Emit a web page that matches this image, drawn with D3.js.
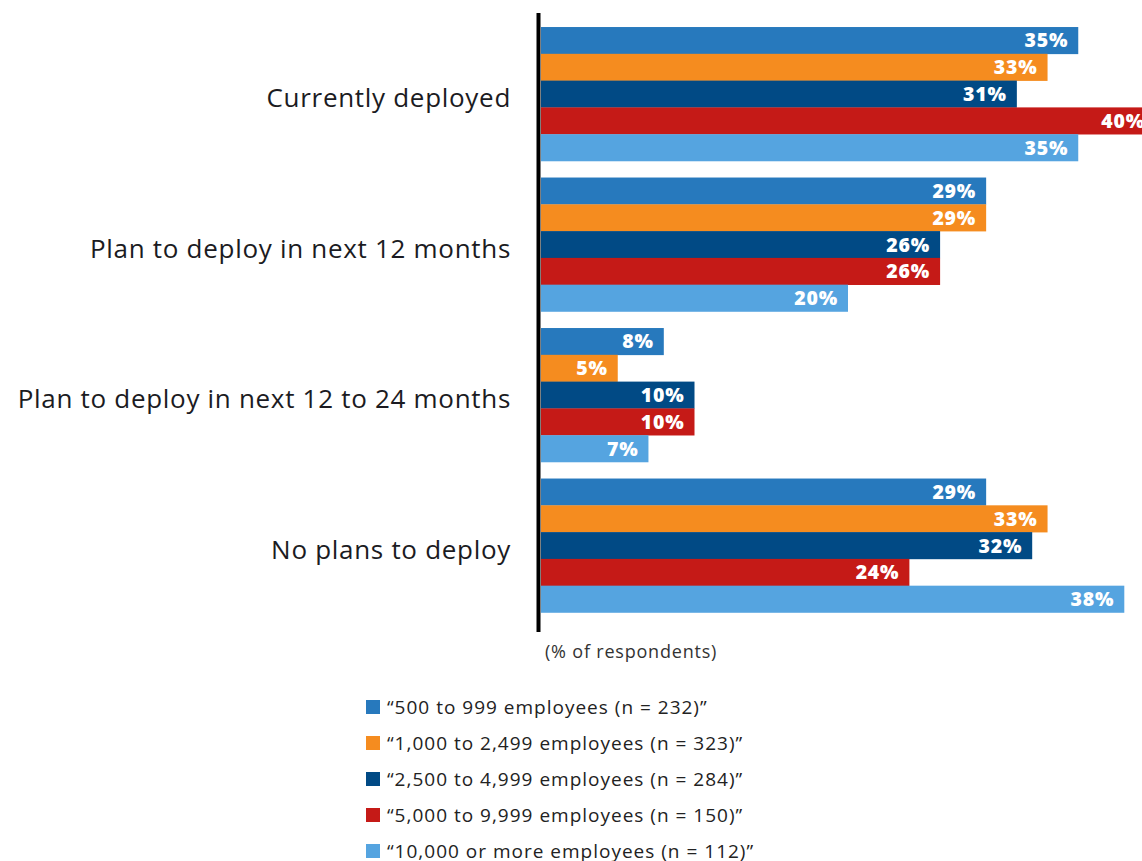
<!DOCTYPE html>
<html>
<head>
<meta charset="utf-8">
<script src="https://cdn.jsdelivr.net/npm/d3@7"></script>
<style>
  html, body { margin: 0; padding: 0; background: #fff; }
  svg { display: block; }
</style>
</head>
<body>
<div id="chart"></div>
<script>
const categories = [
  "Currently deployed",
  "Plan to deploy in next 12 months",
  "Plan to deploy in next 12 to 24 months",
  "No plans to deploy"
];
const seriesNames = [
  "“500 to 999 employees (n = 232)”",
  "“1,000 to 2,499 employees (n = 323)”",
  "“2,500 to 4,999 employees (n = 284)”",
  "“5,000 to 9,999 employees (n = 150)”",
  "“10,000 or more employees (n = 112)”"
];
const seriesColors = ["#2779bd", "#f58c1f", "#014a85", "#c51a17", "#55a4e0"];
// values per series, in category order
const s500  = [35, 29, 8, 29];
const s1000 = [33, 29, 5, 33];
const s2500 = [31, 26, 10, 32];
const s5000 = [40, 26, 10, 24];
const s10000 = [35, 20, 7, 38];
const seriesValues = [s500, s1000, s2500, s5000, s10000];
const axisNote = "(% of respondents)";

const W = 1142, H = 861;
const FONT = "'Open Sans', sans-serif";
const svg = d3.select("#chart").append("svg").attr("width", W).attr("height", H);

const x = d3.scaleLinear().domain([0, 40]).range([541, 1155]);
const y0 = d3.scaleBand().domain(categories).range([18.75, 620.75]).paddingInner(0.11).paddingOuter(0.055);
const y1 = d3.scaleBand().domain(d3.range(seriesNames.length)).range([0, y0.bandwidth()]).padding(0);

const groups = svg.append("g").selectAll("g")
  .data(categories)
  .join("g")
  .attr("transform", d => `translate(0,${y0(d)})`);

groups.each(function(cat, ci) {
  const g = d3.select(this);
  const rows = seriesValues.map((arr, si) => ({ si, v: arr[ci] }));
  g.selectAll("rect").data(rows).join("rect")
    .attr("x", x(0))
    .attr("y", d => y1(d.si))
    .attr("width", d => x(d.v) - x(0))
    .attr("height", y1.bandwidth() + 0.3)
    .attr("fill", d => seriesColors[d.si]);
  g.selectAll("text.val").data(rows).join("text")
    .attr("class", "val")
    .attr("x", d => x(d.v) - 10)
    .attr("y", d => y1(d.si) + y1.bandwidth() / 2)
    .attr("dy", "0.36em")
    .attr("text-anchor", "end")
    .attr("fill", "#fff")
    .attr("font-family", FONT)
    .attr("font-weight", 800)
    .attr("font-size", 19.5)
    .attr("letter-spacing", 0.8)
    .text(d => d.v + "%");
});

// category labels
svg.append("g").selectAll("text")
  .data(categories).join("text")
  .attr("x", 511)
  .attr("y", d => y0(d) + y0.bandwidth() / 2 + 4)
  .attr("dy", "0.35em")
  .attr("text-anchor", "end")
  .attr("fill", "#1b1b22")
  .attr("font-family", FONT)
  .attr("font-size", 26)
  .attr("letter-spacing", 0.7)
  .text(d => d);

// vertical axis line
svg.append("line")
  .attr("x1", 538.5).attr("x2", 538.5)
  .attr("y1", 13).attr("y2", 632)
  .attr("stroke", "#000").attr("stroke-width", 4);

svg.append("text")
  .attr("x", 545).attr("y", 658)
  .attr("fill", "#333")
  .attr("font-family", FONT)
  .attr("font-size", 18)
  .attr("letter-spacing", 0.8)
  .text(axisNote);

// legend
const leg = svg.append("g").selectAll("g")
  .data(seriesNames).join("g")
  .attr("transform", (d, i) => `translate(366,${707 + i * 36})`);
leg.append("rect")
  .attr("x", 0).attr("y", -7).attr("width", 14).attr("height", 14)
  .attr("fill", (d, i) => seriesColors[i]);
leg.append("text")
  .attr("x", 21).attr("y", 0).attr("dy", "0.35em")
  .attr("fill", "#222")
  .attr("font-family", FONT)
  .attr("font-size", 19)
  .attr("letter-spacing", 1)
  .text(d => d);
</script>
</body>
</html>
